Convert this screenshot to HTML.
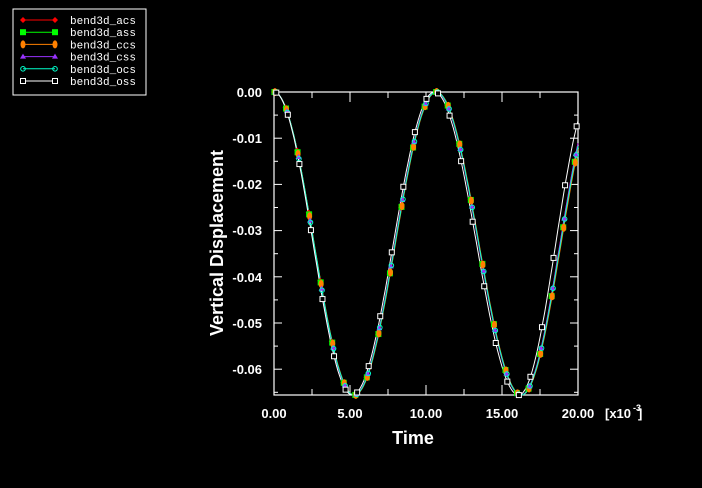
<!DOCTYPE html>
<html><head><meta charset="utf-8"><style>
html,body{margin:0;padding:0;background:#000;width:702px;height:488px;overflow:hidden}
svg{display:block}
text{font-family:"Liberation Sans",sans-serif;fill:#fff}
.m{font-family:"Liberation Mono",monospace;font-size:11px}
</style></head><body>
<svg id="s" width="702" height="488" xmlns="http://www.w3.org/2000/svg">
<rect x="13" y="9" width="133" height="86" fill="none" stroke="#fff" stroke-width="1"/>
<g id="leg"></g>
<rect x="274" y="92" width="304" height="303" fill="none" stroke="#fff" stroke-width="1.2"/>
<g id="ax" stroke="#fff" stroke-width="1"></g>
<g id="plot"></g>
<g font-size="13" font-weight="bold">
<text x="262" y="97" text-anchor="end">0.00</text>
<text x="262" y="143" text-anchor="end">-0.01</text>
<text x="262" y="189" text-anchor="end">-0.02</text>
<text x="262" y="235" text-anchor="end">-0.03</text>
<text x="262" y="282" text-anchor="end">-0.04</text>
<text x="262" y="328" text-anchor="end">-0.05</text>
<text x="262" y="374" text-anchor="end">-0.06</text>
<text x="274" y="418" text-anchor="middle">0.00</text>
<text x="350" y="418" text-anchor="middle">5.00</text>
<text x="426" y="418" text-anchor="middle">10.00</text>
<text x="502" y="418" text-anchor="middle">15.00</text>
<text x="578" y="418" text-anchor="middle">20.00</text>
<text x="605" y="418">[x10</text><text x="633" y="411" font-size="9">-3</text><text x="638" y="418">]</text>
</g>
<text x="413" y="444" font-size="18" font-weight="bold" text-anchor="middle">Time</text>
<text x="0" y="0" font-size="18" font-weight="bold" text-anchor="middle" transform="translate(223,243) rotate(-90)">Vertical Displacement</text>
</svg>
<script>
var NS="http://www.w3.org/2000/svg",s=document.getElementById('s');
function el(p,t,a){var e=document.createElementNS(NS,t);for(var k in a)e.setAttribute(k,a[k]);p.appendChild(e);return e;}
var ax=document.getElementById('ax');
for(var i=0;i<=13;i++){var y=92+i*23.1,L=i%2?4:8;el(ax,'line',{x1:274,y1:y,x2:274+L,y2:y});el(ax,'line',{x1:578,y1:y,x2:578-L,y2:y});}
for(var i=0;i<=8;i++){var x=274+i*38,L=i%2?6:10;el(ax,'line',{x1:x,y1:395,x2:x,y2:395-L});el(ax,'line',{x1:x,y1:92,x2:x,y2:92+L});}
var ser=[["#ff0000","d"],["#00ff00","s"],["#ff8000","e"],["#9933ff","t"],["#00ffcc","c"],["#ffffff","q"]];
function mk(g,c,t,x,y){
 if(t=="d")el(g,'polygon',{points:(x-3)+","+y+" "+x+","+(y-3)+" "+(x+3)+","+y+" "+x+","+(y+3),fill:c});
 else if(t=="s")el(g,'rect',{x:x-3,y:y-3,width:6,height:6,fill:c});
 else if(t=="e")el(g,'ellipse',{cx:x,cy:y,rx:2.5,ry:4,fill:c});
 else if(t=="t")el(g,'polygon',{points:(x-3)+","+(y+2)+" "+x+","+(y-3)+" "+(x+3)+","+(y+2),fill:c});
 else if(t=="c")el(g,'circle',{cx:x,cy:y,r:2.3,fill:"none",stroke:c,'stroke-width':1});
 else el(g,'rect',{x:x-2.5,y:y-2.5,width:5,height:5,fill:"#000",stroke:c,'stroke-width':1});
}
var leg=document.getElementById('leg');
ser.forEach(function(sr,i){var y=20+i*12.2;el(leg,'line',{x1:23,y1:y,x2:55,y2:y,stroke:sr[0],'stroke-width':1});mk(leg,sr[0],sr[1],23,y);mk(leg,sr[0],sr[1],55,y);
 var t=el(leg,'text',{x:70,y:y+4,'class':'m'});t.textContent=["bend3d_acs","bend3d_ass","bend3d_ccs","bend3d_css","bend3d_ocs","bend3d_oss"][i];});
var pl=document.getElementById('plot');
function X(t){return 274+t*15.2}function Y(v){return 92-v*4620}
function nodes(i){var d=i==5?0:0.05+(i%3)*0.02;return i==5?[[0,0],[5.15,1],[10.55,2],[16.1,3],[20,3.8]]:[[0,0],[5.2+d,1],[10.6+d,2],[16.2+d,3],[20,3.75-d*0.4]];}
function mkf(i){var N=nodes(i),A=0.0328;return function(t){for(var k=1;k<N.length;k++){if(t<=N[k][0]||k==N.length-1){var g=N[k-1][1]+(t-N[k-1][0])/(N[k][0]-N[k-1][0])*(N[k][1]-N[k-1][1]);return -A*(1-Math.cos(Math.PI*g));}}};}
ser.forEach(function(sr,i){
 var f=mkf(i);
 var d="";for(var t=0;t<=20.001;t+=0.1){d+=(t?"L":"M")+X(t).toFixed(1)+","+Y(f(t)).toFixed(1);}
 el(pl,'path',{d:d,fill:"none",stroke:sr[0],'stroke-width':1});
});
ser.forEach(function(sr,i){
 var f=mkf(i);
 for(var t=0.03*i;t<=20.01;t+=0.76){mk(pl,sr[0],sr[1],X(t),Y(f(t)));}
});
</script>
</body></html>
